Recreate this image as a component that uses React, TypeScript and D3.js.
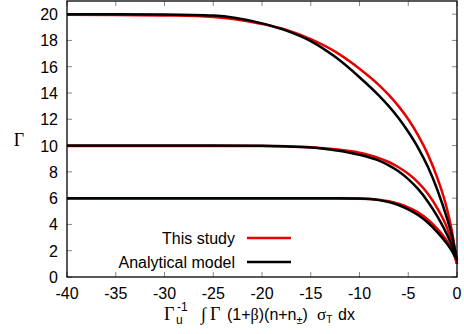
import React from "react";
import * as d3 from "d3";

const xs = [-40, -35, -30, -25, -20, -17.5, -15, -12.5, -10, -8, -7, -6, -5, -4, -3, -2, -1, -0.5, 0];

const study20 = [19.95, 19.94, 19.9, 19.78, 19.25, 18.8, 18.1, 17.15, 15.85, 14.6, 13.85, 13.0, 12.0, 10.8, 9.35, 7.5, 5.1, 3.4, 1.0];
const model20 = [20, 20, 19.98, 19.9, 19.3, 18.75, 17.95, 16.75, 15.2, 13.8, 13.0, 12.1, 11.05, 9.85, 8.4, 6.6, 4.4, 3.1, 1.3];
const study10 = [9.97, 9.97, 9.97, 9.97, 9.96, 9.93, 9.87, 9.72, 9.45, 9.05, 8.75, 8.35, 7.85, 7.2, 6.35, 5.2, 3.7, 2.6, 1.0];
const model10 = [10, 10, 10, 10, 9.98, 9.94, 9.85, 9.65, 9.3, 8.85, 8.5, 8.05, 7.45, 6.7, 5.75, 4.6, 3.2, 2.35, 1.3];
const study6 = [5.97, 5.97, 5.97, 5.97, 5.97, 5.97, 5.97, 5.97, 5.96, 5.88, 5.76, 5.57, 5.3, 4.92, 4.38, 3.65, 2.7, 2.05, 1.0];
const model6 = [6, 6, 6, 6, 6, 6, 6, 6, 5.97, 5.85, 5.7, 5.48, 5.15, 4.72, 4.15, 3.4, 2.5, 1.95, 1.3];

const xTicks = [-40, -35, -30, -25, -20, -15, -10, -5, 0];
const yTicks = [0, 2, 4, 6, 8, 10, 12, 14, 16, 18, 20];

const studySeries = [study20, study10, study6];
const modelSeries = [model20, model10, model6];

const W = 464, H = 334;
const L = 67, R = 457, T = 1, B = 277;
const RED = "#e80000";
const SANS = "'Liberation Sans', Arial, Helvetica, sans-serif";
const SERIF = "'Liberation Serif', 'DejaVu Serif', serif";

export default function App() {
  const x = d3.scaleLinear().domain([-40, 0]).range([L, R]);
  const y = d3.scaleLinear().domain([0, 21]).range([B, T]);
  const line = d3
    .line<number>()
    .x((_, i) => x(xs[i]))
    .y((d) => y(d))
    .curve(d3.curveMonotoneX);
  const tk = 5;
  return (
    <svg width={W} height={H} style={{ position: "absolute", left: 0, top: 0 }}>
      <rect width={W} height={H} fill="white" />
      {xTicks.map((t) => (
        <g key={"x" + t}>
          <line x1={x(t)} x2={x(t)} y1={B} y2={B - tk} stroke="#888" />
          <line x1={x(t)} x2={x(t)} y1={T} y2={T + tk} stroke="#888" />
          <text x={x(t)} y={299} textAnchor="middle" fontFamily={SANS} fontSize={16}>
            {t}
          </text>
        </g>
      ))}
      {yTicks.map((t) => (
        <g key={"y" + t}>
          <line x1={L} x2={L + tk} y1={y(t)} y2={y(t)} stroke="#888" />
          <line x1={R} x2={R - tk} y1={y(t)} y2={y(t)} stroke="#888" />
          <text x={58} y={y(t) + 6} textAnchor="end" fontFamily={SANS} fontSize={16}>
            {t}
          </text>
        </g>
      ))}
      {studySeries.map((s, i) => (
        <path key={"s" + i} d={line(s) || ""} fill="none" stroke={RED} strokeWidth={2.5} />
      ))}
      {modelSeries.map((s, i) => (
        <path key={"m" + i} d={line(s) || ""} fill="none" stroke="black" strokeWidth={2.5} />
      ))}
      <rect x={L} y={T} width={R - L} height={B - T} fill="none" stroke="black" strokeWidth={1.3} />
      {/* legend */}
      <text x={235} y={244} textAnchor="end" fontFamily={SANS} fontSize={16}>
        This study
      </text>
      <line x1={247} x2={291} y1={238} y2={238} stroke={RED} strokeWidth={2.5} />
      <text x={235} y={268} textAnchor="end" fontFamily={SANS} fontSize={16}>
        Analytical model
      </text>
      <line x1={247} x2={291} y1={262} y2={262} stroke="black" strokeWidth={2.5} />
      {/* y label */}
      <text x={19} y={146} textAnchor="middle" fontFamily={SERIF} fontSize={18}>
        Γ
      </text>
      {/* x label */}
      <text y={320} fontFamily={SANS} fontSize={16}>
        <tspan x={164} fontFamily={SERIF} fontSize={18}>Γ</tspan>
        <tspan x={176} dy={4} fontSize={12}>u</tspan>
        <tspan x={177} dy={-13} fontSize={12}>-1</tspan>
        <tspan x={201} dy={9} fontFamily={SERIF} fontSize={18}>∫</tspan>
        <tspan x={210} fontFamily={SERIF} fontSize={18}>Γ</tspan>
        <tspan x={227}>(1+</tspan>
        <tspan fontFamily={SERIF}>β</tspan>
        <tspan>)(n+n</tspan>
        <tspan dy={4} fontSize={11}>±</tspan>
        <tspan dy={-4}>)</tspan>
        <tspan x={317} fontFamily={SERIF} fontSize={17}>σ</tspan>
        <tspan dy={3} fontSize={10}>T</tspan>
        <tspan x={338} dy={-3}>dx</tspan>
      </text>
    </svg>
  );
}
